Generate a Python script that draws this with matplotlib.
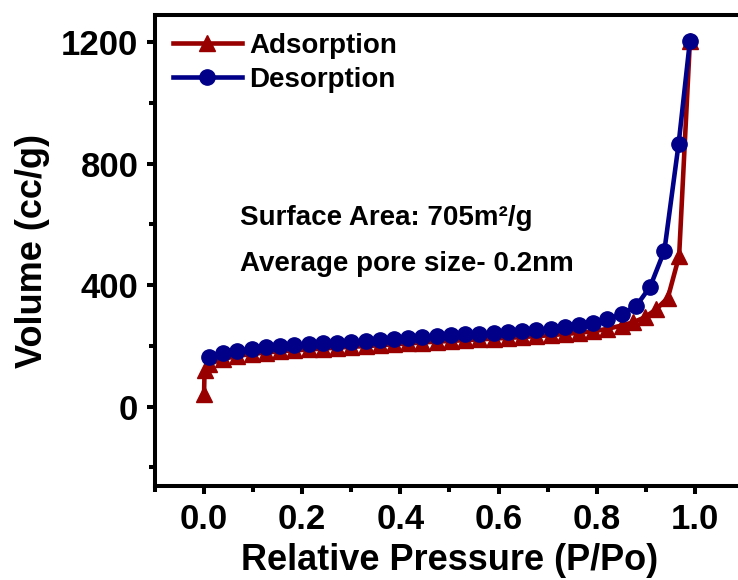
import matplotlib
matplotlib.use('Agg')
import matplotlib.pyplot as plt
from matplotlib.ticker import MultipleLocator, FormatStrFormatter

plt.rcParams['font.family'] = ['Liberation Sans', 'DejaVu Sans']
plt.rcParams['font.weight'] = 'bold'

# Dados
p_ads = [0.000, 0.001, 0.010, 0.039, 0.068, 0.097, 0.126, 0.155, 0.184, 0.213, 0.242,
         0.271, 0.300, 0.329, 0.358, 0.387, 0.416, 0.445, 0.474, 0.503, 0.532, 0.561,
         0.590, 0.619, 0.648, 0.677, 0.706, 0.735, 0.764, 0.793, 0.822, 0.851, 0.875,
         0.898, 0.921, 0.945, 0.968, 0.990]
v_ads = [40, 120, 140, 157, 167, 173, 178, 182, 185, 188, 191,
         194, 197, 199, 202, 205, 208, 211, 214, 216, 219, 221,
         224, 226, 229, 232, 235, 239, 243, 248, 256, 267, 278,
         294, 320, 358, 496, 1205]

p_des = [0.010, 0.039, 0.068, 0.097, 0.126, 0.155, 0.184, 0.213, 0.242, 0.271, 0.300,
         0.329, 0.358, 0.387, 0.416, 0.445, 0.474, 0.503, 0.532, 0.561, 0.590, 0.619,
         0.648, 0.677, 0.706, 0.735, 0.764, 0.793, 0.822, 0.851, 0.880, 0.909, 0.938,
         0.967, 0.990]
v_des = [162, 175, 184, 190, 195, 199, 202, 205, 208, 211, 214,
         217, 220, 223, 226, 229, 232, 235, 238, 240, 243, 245,
         249, 252, 256, 262, 268, 276, 287, 305, 330, 395, 514,
         866, 1205]

cor_ads = '#980000'
cor_des = '#000088'

fig = plt.figure(figsize=(7.38, 5.8), dpi=100)
ax = fig.add_axes([0.21, 0.162, 0.798, 0.812])

ax.plot(p_ads, v_ads, color=cor_ads, lw=3.3, marker='^', ms=12, label='Adsorption')
ax.plot(p_des, v_des, color=cor_des, lw=3.3, marker='o', ms=11, label='Desorption')

ax.set_xlim(-0.1, 1.1)
ax.set_ylim(-262, 1290)
ax.xaxis.set_major_locator(MultipleLocator(0.2))
ax.xaxis.set_minor_locator(MultipleLocator(0.1))
ax.xaxis.set_major_formatter(FormatStrFormatter('%.1f'))
ax.yaxis.set_major_locator(MultipleLocator(400))
ax.yaxis.set_minor_locator(MultipleLocator(200))

for s in ax.spines.values():
    s.set_linewidth(2.9)
ax.tick_params(which='major', length=6, width=2.9, labelsize=25, pad=6)
ax.tick_params(which='minor', length=4, width=2.9)

ax.set_xlabel('Relative Pressure (P/Po)', fontsize=26, fontweight='bold', labelpad=5)
ax.set_ylabel('Volume (cc/g)', fontsize=26, fontweight='bold', labelpad=8)

ax.legend(loc='upper left', bbox_to_anchor=(0.03, 0.963), frameon=False, fontsize=20,
          handlelength=2.5, handletextpad=0.25, labelspacing=0.3, borderaxespad=0, borderpad=0)

ax.text(0.074, 621, 'Surface Area: 705m\u00b2/g', fontsize=20, fontweight='bold', va='center')
ax.text(0.074, 470, 'Average pore size- 0.2nm', fontsize=20, fontweight='bold', va='center')

fig.savefig('out.png', dpi=100)
